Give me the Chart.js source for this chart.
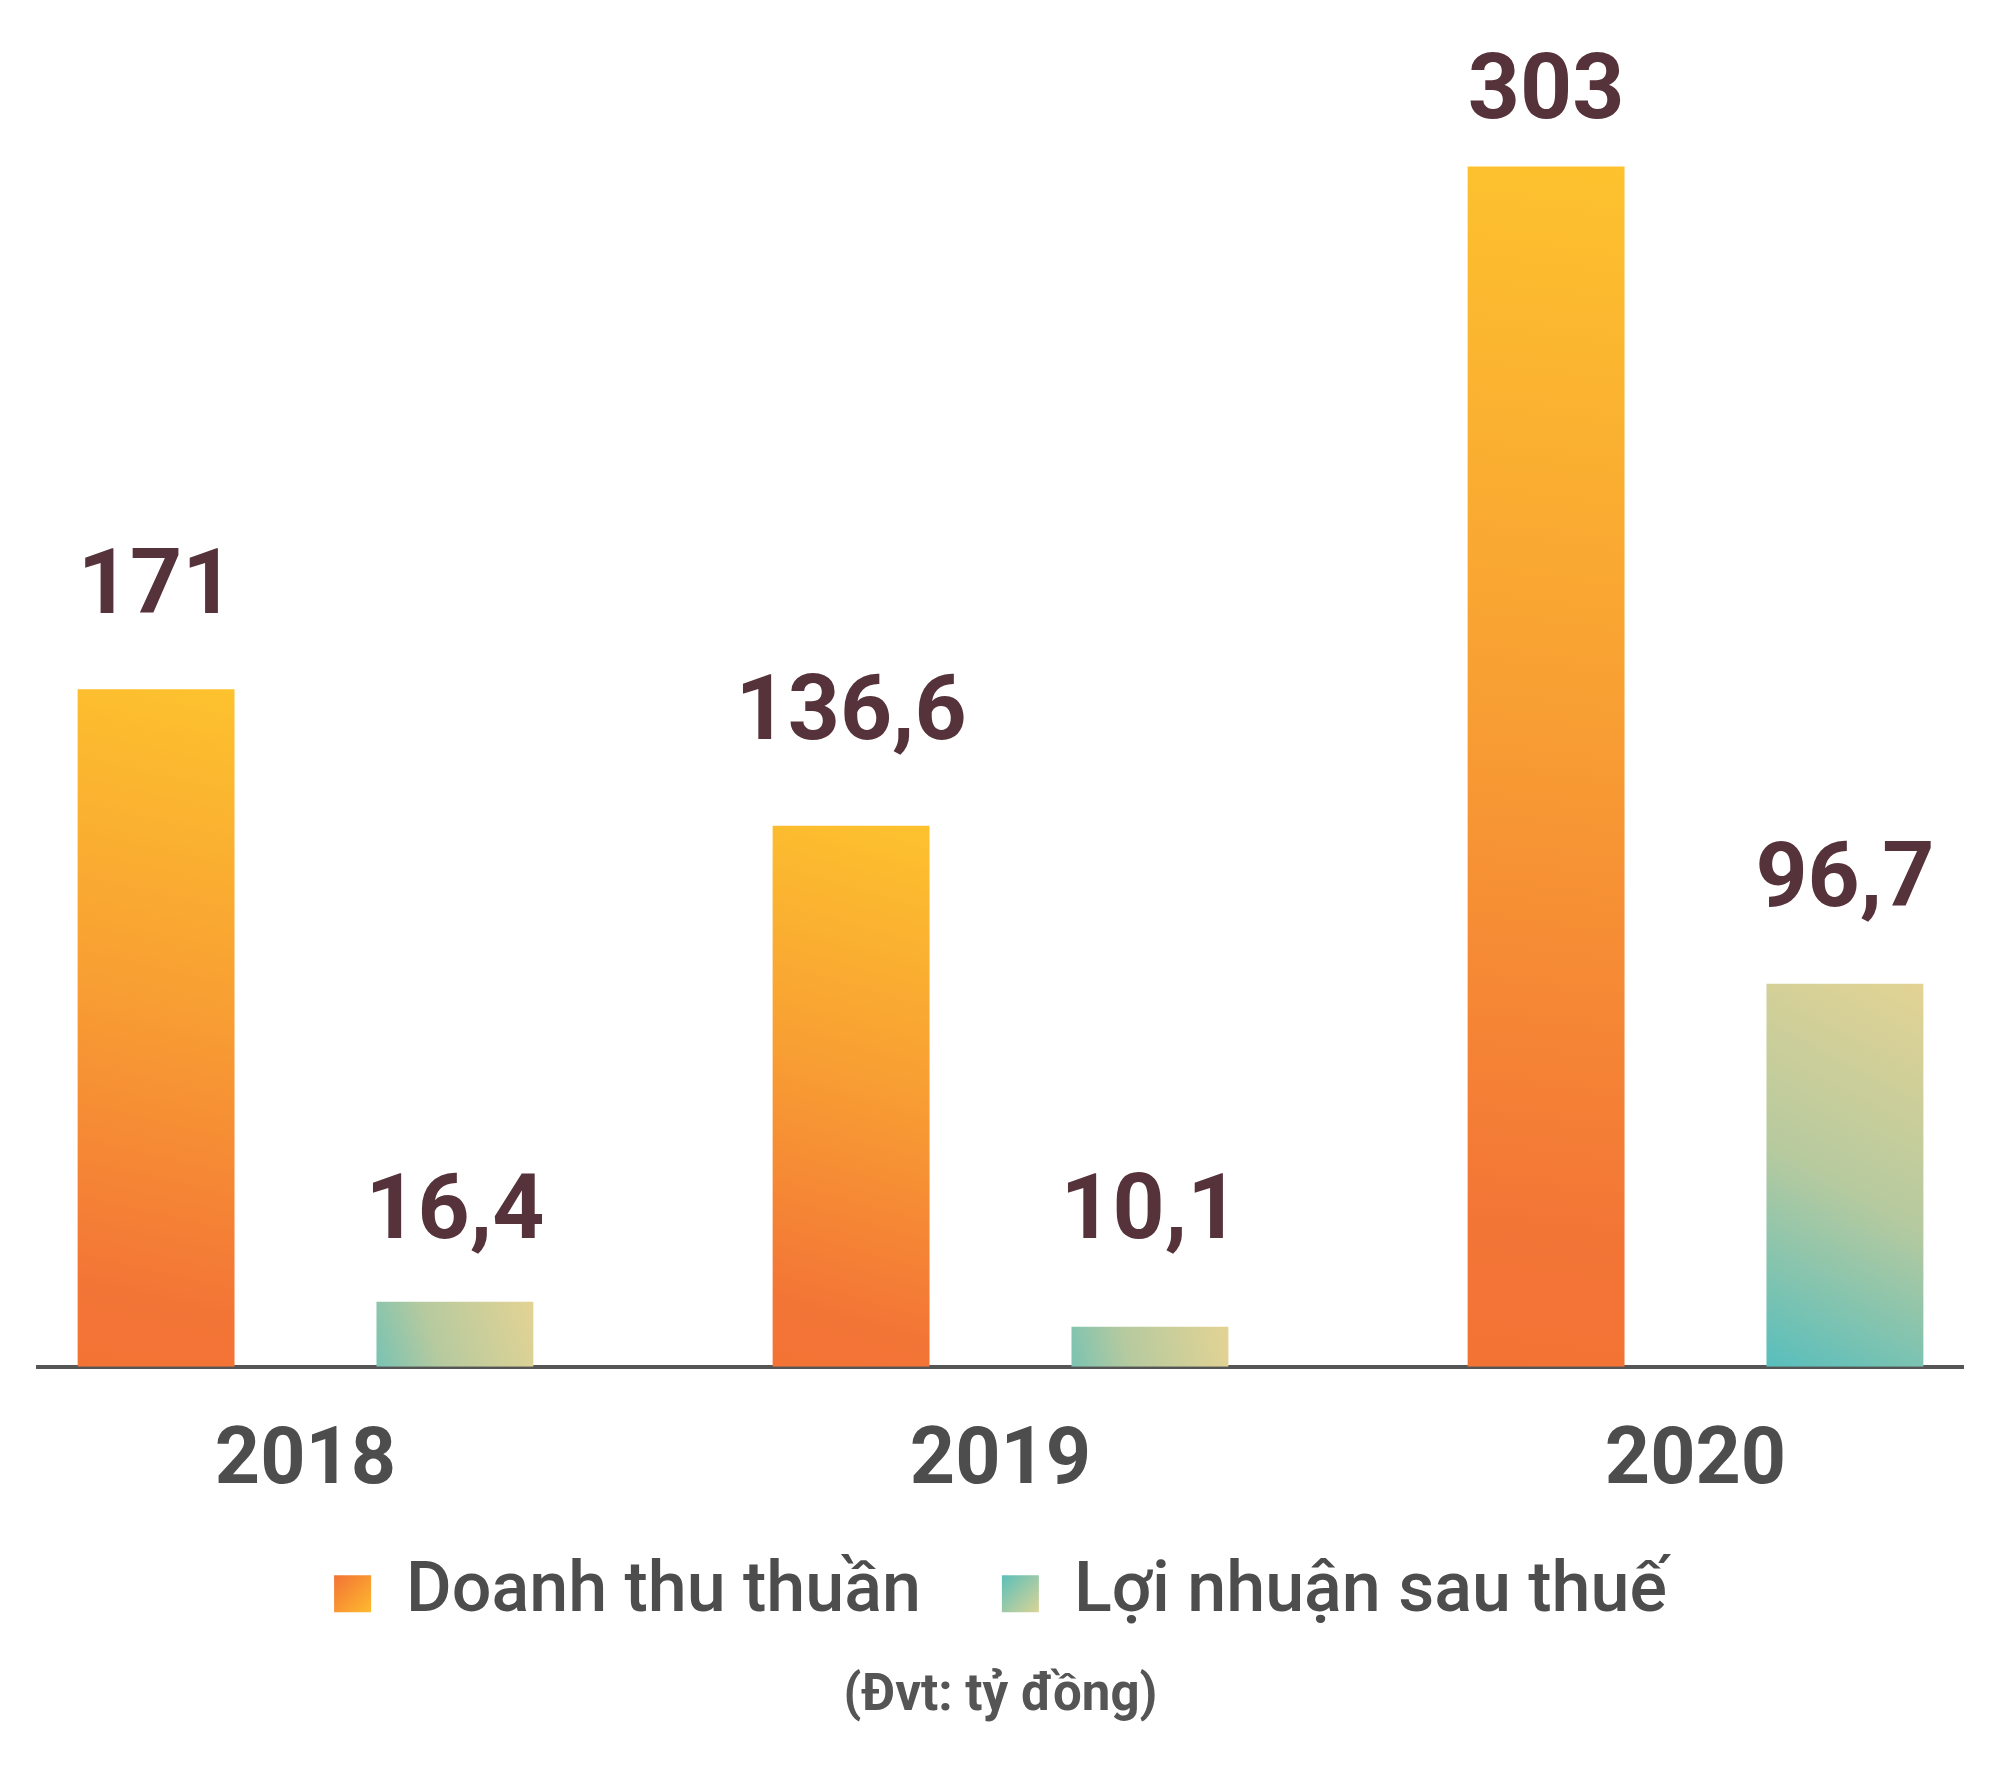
<!DOCTYPE html>
<html lang="vi">
<head>
<meta charset="utf-8">
<title>Doanh thu thuần và lợi nhuận sau thuế</title>
<script src="https://cdn.jsdelivr.net/npm/chart.js@4.4.1/dist/chart.umd.min.js"></script>
<style>
  html, body { margin: 0; padding: 0; background: #fff; }
  body { width: 2000px; height: 1772px; position: relative; overflow: hidden; }
  /* khung cắt để đường trục chỉ chạy từ 36px đến 1964px */
  #clip { position: absolute; left: 36px; top: 0; width: 1928px; height: 1772px; overflow: hidden; }
  #chart { position: absolute; left: -78px; top: 0; }
</style>
</head>
<body>
<div id="clip"><canvas id="chart" width="2085" height="1772"></canvas></div>
<script>
const years = ['2018', '2019', '2020'];
const revenue = [171, 136.6, 303];
const profit = [16.4, 10.1, 96.7];
const seriesNames = ['Doanh thu thuần', 'Lợi nhuận sau thuế'];
const unitNote = '(Đvt: tỷ đồng)';

// khoảng cách từ chân nhãn giá trị tới đỉnh cột (px)
const labelGaps = [[76, 87, 48], [64, 89, 78]];

const orangeStops = [[0, '#F37335'], [0.12, '#F37536'], [0.55, '#F89F33'], [1, '#FDC22E']];
const greenStops = [[0, '#4DBDC0'], [0.5, '#B6CA9F'], [1, '#E3D394']];
const legendStops = [
    [[0, '#F37335'], [1, '#FDBA2F']],
    [[0, '#5CBFB9'], [1, '#D9D497']]
];

const LEGEND_FONT = 70;
const LEGEND_BOX = 37;

function makeGradient(ctx, x0, y0, x1, y1, stops) {
    const g = ctx.createLinearGradient(x0, y0, x1, y1);
    stops.forEach(([o, c]) => g.addColorStop(o, c));
    return g;
}

function formatVN(v) {
    return String(v).replace('.', ',');
}

// Tô gradient cho từng cột theo kích thước thật của cột
const barGradientPlugin = {
    id: 'barGradient',
    beforeDatasetsDraw(chart) {
        const ctx = chart.ctx;
        chart.data.datasets.forEach((ds, i) => {
            chart.getDatasetMeta(i).data.forEach(bar => {
                const { x, y, base, width } = bar.getProps(['x', 'y', 'base', 'width'], true);
                const left = x - width / 2, right = x + width / 2;
                bar.options.backgroundColor = i === 0
                    ? makeGradient(ctx, left, base, right, y, orangeStops)
                    : makeGradient(ctx, left - width * 0.3, base, right, y, greenStops);
            });
        });
    }
};

// Ô chú giải dùng gradient; chỉnh chiều cao và vị trí khối chú giải
const legendGradientPlugin = {
    id: 'legendGradient',
    beforeInit(chart) {
        const origFit = chart.legend.fit;
        chart.legend.fit = function () {
            origFit.call(this);
            this.height = 170;
        };
    },
    afterLayout(chart) {
        chart.legend.top -= 19;
        chart.legend.bottom -= 19;
    },
    beforeDraw(chart) {
        const legend = chart.legend;
        legend.legendItems.forEach((item, i) => {
            const hb = legend.legendHitBoxes[i];
            const top = hb.top + Math.max((LEGEND_FONT - LEGEND_BOX) / 2, 0);
            item.fillStyle = makeGradient(chart.ctx, hb.left, top, hb.left + LEGEND_BOX, top + LEGEND_BOX, legendStops[i]);
        });
    }
};

// Nhãn giá trị phía trên cột
const valueLabelPlugin = {
    id: 'valueLabels',
    afterDatasetsDraw(chart) {
        const ctx = chart.ctx;
        ctx.save();
        ctx.font = '700 91px Roboto';
        ctx.fillStyle = '#56333A';
        ctx.textAlign = 'center';
        ctx.textBaseline = 'alphabetic';
        chart.data.datasets.forEach((ds, i) => {
            chart.getDatasetMeta(i).data.forEach((bar, j) => {
                ctx.fillText(formatVN(ds.data[j]), bar.x, bar.y - labelGaps[i][j]);
            });
        });
        ctx.restore();
    }
};

new Chart(document.getElementById('chart'), {
    type: 'bar',
    data: {
        labels: years,
        datasets: [
            { label: seriesNames[0], data: revenue, backgroundColor: () => '#F89F33' },
            { label: seriesNames[1], data: profit, backgroundColor: () => '#B6CA9F' }
        ]
    },
    options: {
        responsive: false,
        devicePixelRatio: 1,
        animation: false,
        datasets: {
            bar: { categoryPercentage: 0.86, barPercentage: 0.525 }
        },
        layout: { padding: 0 },
        scales: {
            x: {
                z: 1,
                grid: { display: false, drawTicks: false },
                border: { display: true, color: '#555555', width: 4 },
                ticks: {
                    color: '#4D4D4D',
                    padding: 49,
                    font: { family: 'Roboto', weight: '700', size: 79 }
                },
                afterFit(scale) {
                    scale.height = 130;
                }
            },
            y: {
                display: false,
                min: 0,
                max: 345
            }
        },
        plugins: {
            legend: {
                position: 'bottom',
                labels: {
                    boxWidth: LEGEND_BOX,
                    boxHeight: LEGEND_BOX,
                    padding: 81,
                    color: '#4D4D4D',
                    font: { family: 'Roboto', weight: '500', size: LEGEND_FONT }
                }
            },
            title: {
                display: true,
                position: 'bottom',
                text: unitNote,
                color: '#555555',
                font: { family: 'Roboto', weight: '700', size: 51, lineHeight: 1.2 },
                padding: { top: 0, bottom: 44 }
            },
            tooltip: { enabled: false }
        }
    },
    plugins: [barGradientPlugin, legendGradientPlugin, valueLabelPlugin]
});
</script>
</body>
</html>
